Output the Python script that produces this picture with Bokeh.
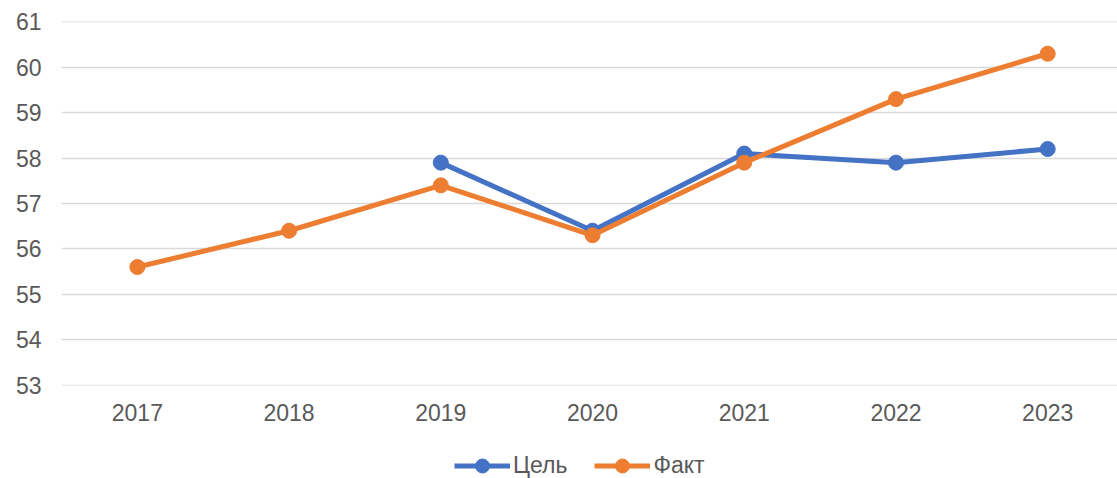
from bokeh.plotting import figure
from bokeh.layouts import column
from bokeh.models import FixedTicker, Legend, LegendItem, ColumnDataSource
from bokeh.embed import file_html
from bokeh.resources import INLINE

# Years shown on the category axis
years = [2017, 2018, 2019, 2020, 2021, 2022, 2023]

# Target values (available from 2019)
target_years = [2019, 2020, 2021, 2022, 2023]
target_values = [57.9, 56.4, 58.1, 57.9, 58.2]

# Actual values
actual_years = [2017, 2018, 2019, 2020, 2021, 2022, 2023]
actual_values = [55.6, 56.4, 57.4, 56.3, 57.9, 59.3, 60.3]

y_ticks = [53, 54, 55, 56, 57, 58, 59, 60, 61]

BLUE = "#4472C4"
ORANGE = "#ED7D31"
TEXT = "#595959"
GRID = "#D9D9D9"
FONT = "Liberation Sans"

target_src = ColumnDataSource(dict(x=target_years, y=target_values))
actual_src = ColumnDataSource(dict(x=actual_years, y=actual_values))

p = figure(
    width=1117, height=426,
    x_range=(2016.5, 2023.46), y_range=(52.99, 61.01),
    output_backend="svg", toolbar_location=None,
    min_border_left=61, min_border_right=0, min_border_top=21, min_border_bottom=41,
)
p.outline_line_color = None
p.background_fill_color = "white"
p.border_fill_color = "white"

# Grid
p.xgrid.grid_line_color = None
p.ygrid.grid_line_color = GRID
p.ygrid.grid_line_width = 1.5
p.ygrid.ticker = FixedTicker(ticks=y_ticks)

# Y axis
p.yaxis.ticker = FixedTicker(ticks=y_ticks)
p.yaxis.axis_line_color = None
p.yaxis.major_tick_line_color = None
p.yaxis.minor_tick_line_color = None
p.yaxis.major_tick_out = 0
p.yaxis.major_tick_in = 0
p.yaxis.major_label_standoff = 20
p.yaxis.major_label_text_font = FONT
p.yaxis.major_label_text_font_size = "23px"
p.yaxis.major_label_text_color = TEXT

# X axis
p.xaxis.ticker = FixedTicker(ticks=years)
p.xaxis.major_label_overrides = {y: str(y) for y in years}
p.xaxis.axis_line_color = None
p.xaxis.major_tick_line_color = None
p.xaxis.minor_tick_line_color = None
p.xaxis.major_tick_out = 0
p.xaxis.major_tick_in = 0
p.xaxis.major_label_standoff = 18
p.xaxis.major_label_text_font = FONT
p.xaxis.major_label_text_font_size = "23px"
p.xaxis.major_label_text_color = TEXT


def add_series(fig, src, color):
    ln = fig.line("x", "y", source=src, line_color=color, line_width=5)
    dot = fig.scatter("x", "y", source=src, size=15, fill_color=color, line_color=color)
    return ln, dot


add_series(p, target_src, BLUE)
add_series(p, actual_src, ORANGE)

# Legend strip: same series, viewed through an empty window, so only the legend shows
leg = figure(
    width=1117, height=52,
    x_range=(0, 1), y_range=(0, 1),
    output_backend="svg", toolbar_location=None,
    min_border_left=0, min_border_right=0, min_border_top=0, min_border_bottom=0,
)
leg.axis.visible = False
leg.grid.visible = False
leg.outline_line_color = None
leg.background_fill_color = "white"
leg.border_fill_color = "white"

lt_line, lt_dot = add_series(leg, target_src, BLUE)
la_line, la_dot = add_series(leg, actual_src, ORANGE)

legend = Legend(
    items=[
        LegendItem(label="Цель", renderers=[lt_line, lt_dot]),
        LegendItem(label="Факт", renderers=[la_line, la_dot]),
    ],
    orientation="horizontal",
    location=(393, -5),
    glyph_width=56, glyph_height=35,
    label_text_font=FONT, label_text_font_size="23px", label_text_color=TEXT,
    label_standoff=3, spacing=27, padding=0, margin=0,
    border_line_color=None, background_fill_alpha=0,
)
leg.add_layout(legend, "center")

layout = column(p, leg, spacing=0)
open("out.html", "w").write(file_html(layout, INLINE))
